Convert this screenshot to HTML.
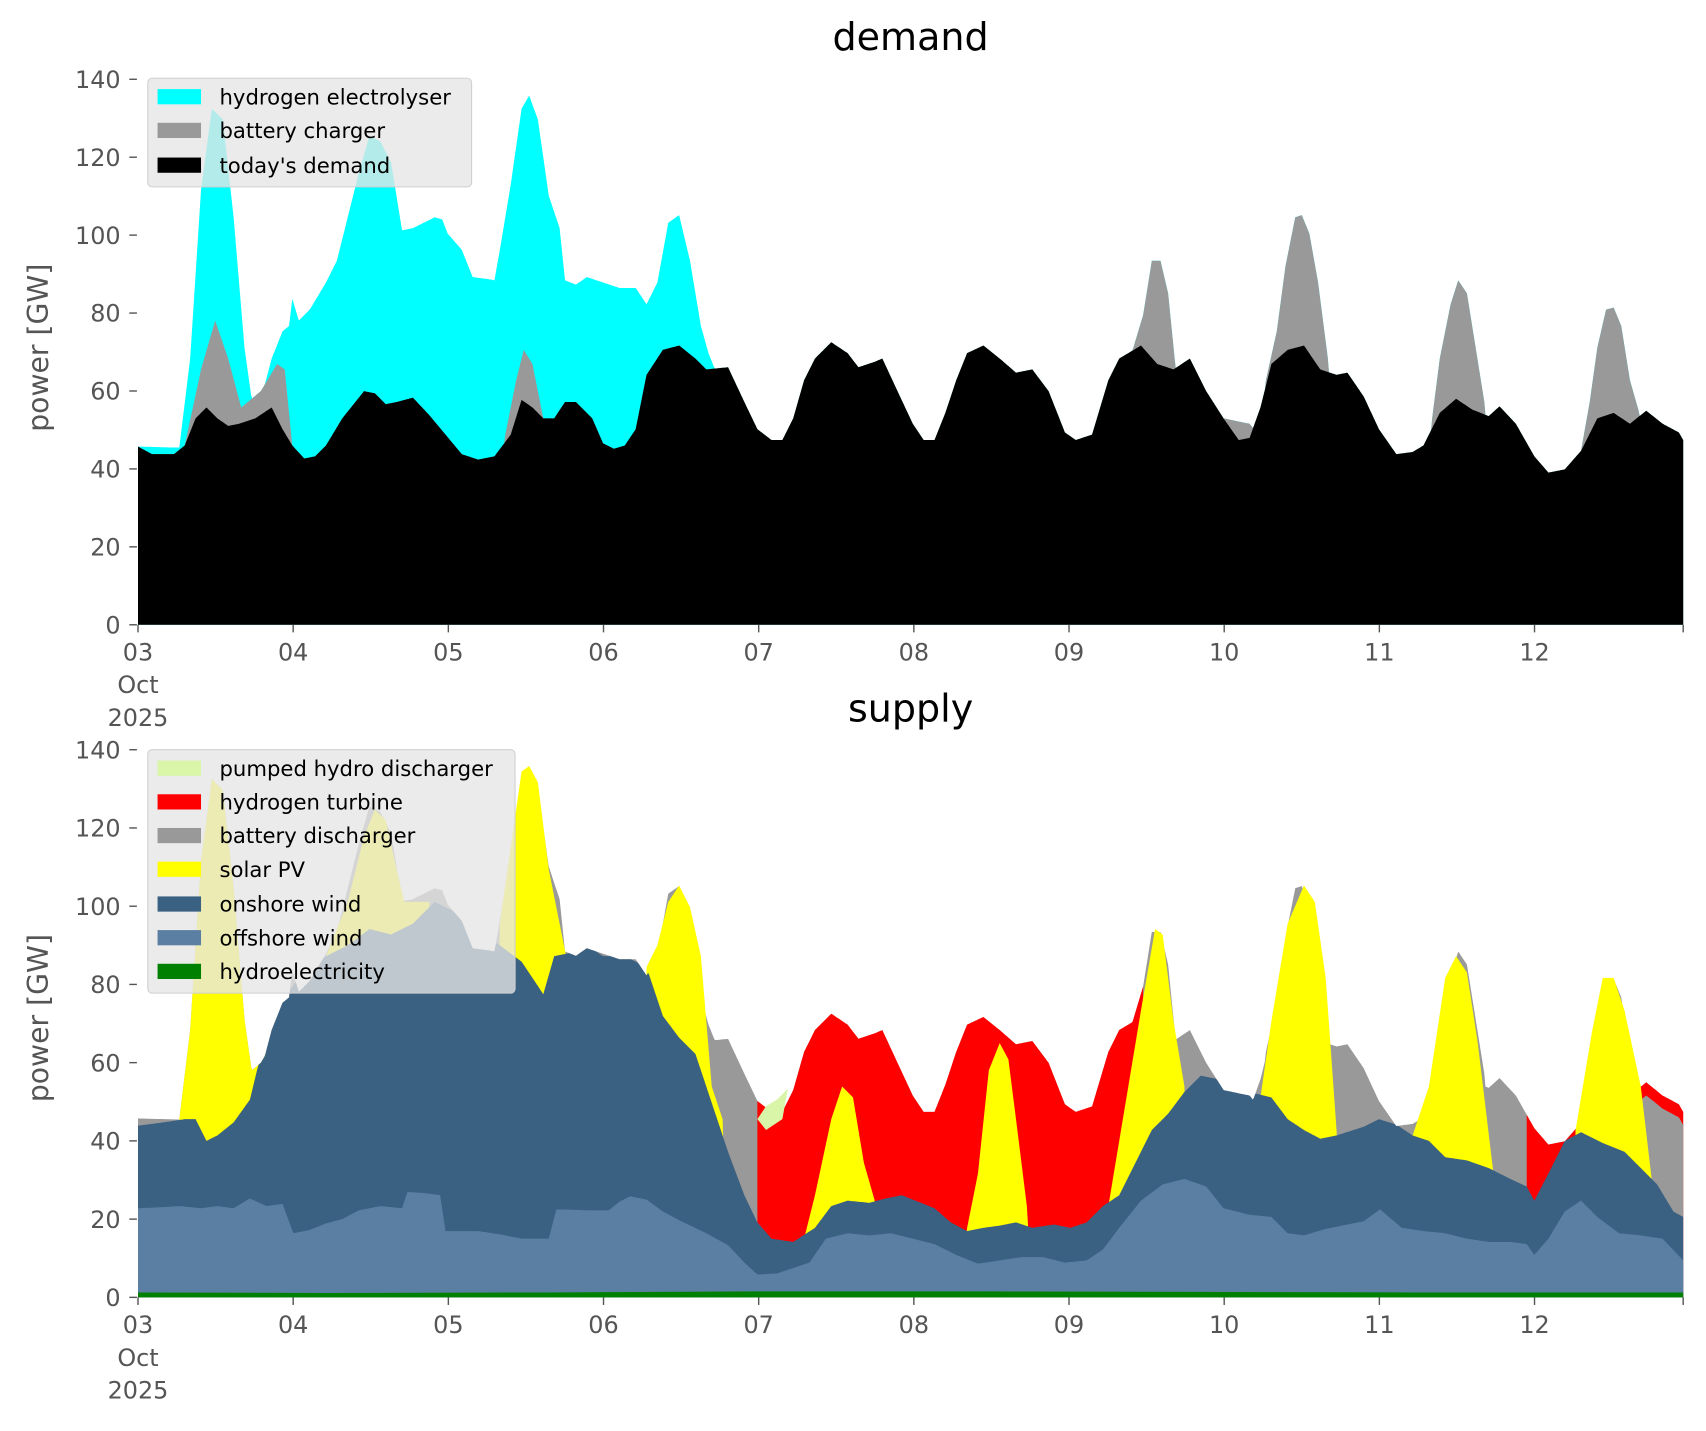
<!DOCTYPE html>
<html><head><meta charset="utf-8"><style>
html,body{margin:0;padding:0;background:#fff;}
svg{display:block;}
text{font-family:"DejaVu Sans","Liberation Sans",sans-serif;}
</style></head><body>
<svg id="s" width="1706" height="1431" viewBox="0 0 1570 1317" preserveAspectRatio="none" xmlns="http://www.w3.org/2000/svg">
<g id="top"></g>
<g id="bot"></g>
<g id="axes" fill="#555" font-size="22"></g>
<text x="838" y="46" font-size="35" text-anchor="middle" fill="#000">demand</text>
<text x="838" y="664" font-size="35" text-anchor="middle" fill="#000">supply</text>
<text transform="translate(44,320) rotate(-90)" font-size="26" text-anchor="middle" fill="#555">power [GW]</text>
<text transform="translate(44,937) rotate(-90)" font-size="26" text-anchor="middle" fill="#555">power [GW]</text>
<g font-size="19.5" fill="#000">
<rect x="136" y="72" width="298" height="100" rx="4" fill="rgba(229,229,229,0.78)" stroke="#d0d0d0"/>
<rect x="145" y="82" width="40" height="14" fill="#00ffff"/><text x="202" y="96">hydrogen electrolyser</text>
<rect x="145" y="113" width="40" height="14" fill="#999"/><text x="202" y="127">battery charger</text>
<rect x="145" y="145" width="40" height="14" fill="#000"/><text x="202" y="159">today's demand</text>
<rect x="136" y="690" width="338" height="224" rx="4" fill="rgba(229,229,229,0.78)" stroke="#d0d0d0"/>
<rect x="145" y="700" width="40" height="14" fill="#d9f5a8"/><text x="202" y="714">pumped hydro discharger</text>
<rect x="145" y="731" width="40" height="14" fill="#ff0000"/><text x="202" y="745">hydrogen turbine</text>
<rect x="145" y="762" width="40" height="14" fill="#999"/><text x="202" y="776">battery discharger</text>
<rect x="145" y="793" width="40" height="14" fill="#ffff00"/><text x="202" y="807">solar PV</text>
<rect x="145" y="825" width="40" height="14" fill="#3b6182"/><text x="202" y="839">onshore wind</text>
<rect x="145" y="856" width="40" height="14" fill="#5b7fa3"/><text x="202" y="870">offshore wind</text>
<rect x="145" y="887" width="40" height="14" fill="#008000"/><text x="202" y="901">hydroelectricity</text>
</g>
</svg>
<script>
function P(s){var a=s.trim().split(/\s+/).map(Number),r=[];for(var i=0;i<a.length;i+=2)r.push([a[i],a[i+1]]);return r;}
function I(arr,x){if(x<arr[0][0]||x>arr[arr.length-1][0])return Infinity;for(var i=1;i<arr.length;i++){if(x<=arr[i][0]){var a=arr[i-1],b=arr[i];var t=(x-a[0])/(b[0]-a[0]||1);return a[1]+t*(b[1]-a[1]);}}return arr[arr.length-1][1];}
var black=P("127 411 140 418 160 418 170 410 180 385 190 375 200 385 210 392 220 390 235 385 250 375 260 395 269 410 280 422 290 420 300 410 315 385 335 360 345 362 355 372 365 370 380 366 395 382 410 400 425 418 440 423 455 420 470 400 480 368 490 375 500 385 510 385 520 370 530 370 545 385 555 408 565 413 575 410 585 395 595 345 610 322 625 318 640 330 650 340 670 338 685 370 697 395 710 405 720 405 730 385 740 350 750 330 765 315 780 325 790 338 805 333 812 330 825 358 840 390 850 405 860 405 870 380 880 350 890 325 905 318 920 330 935 343 950 340 965 360 980 398 990 405 1005 400 1020 350 1030 330 1050 318 1065 335 1080 340 1095 330 1110 360 1126 385 1140 405 1150 403 1160 375 1170 335 1185 322 1200 318 1215 340 1230 345 1240 343 1255 365 1269 395 1285 418 1300 416 1310 410 1325 380 1340 367 1355 377 1370 383 1380 374 1395 390 1412 420 1425 435 1440 432 1455 415 1470 385 1485 380 1500 390 1515 378 1530 390 1545 398 1549 405");
var greys=[P("170 410 185 340 198 295 210 330 222 375 240 360 255 335 262 340 269 410"),P("465 400 475 350 482 322 490 335 500 385"),P("1040 330 1052 290 1060 240 1068 240 1075 270 1082 340"),P("1108 360 1115 380 1126 385 1140 388 1150 390 1158 400"),P("1165 350 1175 305 1183 245 1192 200 1198 198 1205 215 1213 260 1222 330"),P("1318 385 1325 330 1335 280 1342 258 1350 270 1358 320 1366 370"),P("1455 415 1463 370 1470 320 1478 285 1485 283 1492 300 1500 350 1508 378")];
var cyan=P("127 411 165 412 175 330 185 175 195 100 205 110 215 200 225 320 232 370 240 368 250 330 260 305 266 300 269 275 275 295 285 285 300 260 310 240 320 200 330 160 340 125 350 130 360 150 370 212 380 210 390 205 400 200 407 202 412 215 425 230 435 255 450 257 455 258 460 230 470 170 480 100 487 88 495 110 505 180 515 210 520 258 530 262 540 255 555 260 570 265 585 265 595 280 605 260 615 205 625 198 635 240 645 300 652 325 658 340");
function greyY(x){var m=I(black,x);greys.forEach(function(g){var v=I(g,x);if(v<m)m=v;});return m;}
function envY(x){var m=greyY(x);var c=I(cyan,x);return c<m?c:m;}
function area(f,x0,x1,base){var d="M"+x0+","+base;for(var x=x0;x<=x1;x+=1){d+=" L"+x+","+f(x).toFixed(1);}d+=" L"+x1+","+base+" Z";return d;}
function path(g,d,c){var e=document.createElementNS("http://www.w3.org/2000/svg","path");e.setAttribute("d",d);e.setAttribute("fill",c);g.appendChild(e);}
var T=document.getElementById("top"),B=document.getElementById("bot");
path(T,area(envY,127,1549,575),"#00ffff");
path(T,area(greyY,127,1549,575),"#999");
path(T,area(function(x){return I(black,x);},127,1549,575),"#000");
function benv(x){return 1194-(575-envY(x))*1.004;}
path(B,area(benv,127,1549,1194),"#999");
path(B,area(benv,697,1052,1194),"#ff0000");
path(B,area(benv,1405,1450,1194),"#ff0000");
path(B,area(function(x){return benv(x);},1505,1549,1194),"#ff0000");
path(B,area(function(x){return benv(x)+12;},1505,1549,1194),"#999");
path(B,"M697,1030 L705,1018 L715,1012 L725,1002 L720,1030 L705,1040 Z","#d9f5a8");
path(B,area(benv,165,245,1194),"#ffff00");
var solar=[
P("290 1194 300 880 320 830 335 770 345 745 355 755 365 800 372 830 380 830 395 830 400 1194"),
P("455 1194 460 850 470 780 480 710 487 705 495 720 505 800 515 850 522 885 525 1194"),
P("590 1194 595 890 605 870 615 830 625 815 635 835 645 880 655 1000 665 1030 670 1194"),
P("735 1194 740 1140 750 1100 765 1030 775 1000 785 1010 795 1070 805 1105 810 1194"),
P("885 1194 890 1130 900 1080 910 985 920 960 928 975 935 1030 945 1110 950 1194"),
P("1015 1194 1020 1110 1030 1050 1040 990 1050 930 1063 855 1070 860 1080 940 1090 1000 1095 1194"),
P("1155 1194 1160 1010 1170 940 1185 850 1200 815 1210 830 1220 900 1230 1040 1235 1194"),
P("1295 1194 1300 1045 1315 1000 1330 900 1340 880 1350 895 1360 960 1375 1085 1380 1194"),
P("1445 1194 1450 1040 1465 950 1475 900 1485 900 1495 930 1510 1000 1520 1085 1525 1194")];
solar.forEach(function(s){var d="M"+s.map(function(p){return p[0]+","+p[1];}).join(" L")+" Z";path(B,d,"#ffff00");});
var on=P("127 1036 150 1033 170 1030 180 1030 190 1050 200 1045 215 1033 230 1012 245 950 260 920 275 900 300 880 320 870 340 855 360 860 380 850 400 830 420 840 440 855 460 870 480 885 500 915 510 880 525 877 540 870 555 880 575 880 595 890 610 935 625 955 640 970 655 1015 670 1060 685 1100 697 1125 710 1140 730 1143 750 1130 765 1110 780 1105 800 1107 815 1103 830 1100 845 1106 860 1112 875 1125 890 1133 905 1130 920 1128 935 1125 950 1130 970 1127 985 1130 1000 1125 1015 1110 1030 1100 1045 1070 1060 1040 1075 1025 1090 1005 1105 990 1120 993 1126 1000 1150 1005 1170 1010 1185 1030 1200 1040 1215 1048 1230 1045 1255 1037 1269 1030 1285 1035 1300 1045 1315 1050 1330 1065 1350 1068 1370 1075 1390 1085 1405 1092 1412 1105 1425 1080 1440 1050 1455 1042 1475 1052 1495 1060 1510 1075 1525 1090 1540 1115 1549 1120");
var off=P("127 1112 150 1111 165 1110 185 1112 200 1110 215 1112 230 1103 245 1110 260 1108 270 1135 285 1132 300 1126 315 1122 330 1114 350 1110 370 1112 375 1097 390 1098 405 1100 410 1133 440 1133 460 1136 480 1140 505 1140 512 1113 545 1114 560 1114 570 1106 580 1101 595 1104 610 1115 625 1123 650 1135 670 1146 685 1162 697 1173 715 1172 730 1167 745 1162 760 1140 780 1135 800 1137 820 1135 840 1140 860 1145 880 1155 900 1163 920 1160 940 1157 960 1157 980 1162 1000 1160 1015 1150 1030 1130 1050 1105 1070 1090 1090 1085 1110 1092 1126 1112 1150 1118 1170 1120 1185 1135 1200 1137 1220 1131 1240 1127 1255 1124 1270 1113 1290 1130 1310 1133 1330 1135 1350 1140 1370 1143 1390 1143 1405 1145 1412 1155 1425 1140 1440 1115 1455 1105 1470 1120 1490 1135 1510 1137 1530 1140 1549 1160");
path(B,area(function(x){return Math.max(I(on,x),benv(x));},127,1549,1194),"#3b6182");
path(B,area(function(x){return I(off,x);},127,1549,1194),"#5b7fa3");
path(B,"M127,1194 L127,1189.5 L300,1190 L500,1189.5 L700,1188.5 L900,1188.5 L1100,1189 L1300,1189.5 L1549,1189.5 L1549,1194 Z","#008000");
var A=document.getElementById("axes"),ns="http://www.w3.org/2000/svg";
function line(x1,y1,x2,y2){var e=document.createElementNS(ns,"line");e.setAttribute("x1",x1);e.setAttribute("y1",y1);e.setAttribute("x2",x2);e.setAttribute("y2",y2);e.setAttribute("stroke","#555");e.setAttribute("stroke-width","1.3");A.appendChild(e);}
function txt(x,y,s,anc){var e=document.createElementNS(ns,"text");e.setAttribute("x",x);e.setAttribute("y",y);e.setAttribute("text-anchor",anc);e.textContent=s;A.appendChild(e);}
[[575,3.586],[1194,3.6]].forEach(function(ax){var y0=ax[0],k=ax[1];
for(var v=0;v<=140;v+=20){var y=y0-v*k;line(119,y,126,y);txt(111,y+8,String(v),"end");}
var days=["03","04","05","06","07","08","09","10","11","12"];
for(var i=0;i<10;i++){var x=127+i*142.8;line(x,y0,x,y0+7);txt(x,y0+33,days[i],"middle");}
line(1549,y0,1549,y0+7);
txt(127,y0+63,"Oct","middle");txt(127,y0+93,"2025","middle");});
</script>
</body></html>
